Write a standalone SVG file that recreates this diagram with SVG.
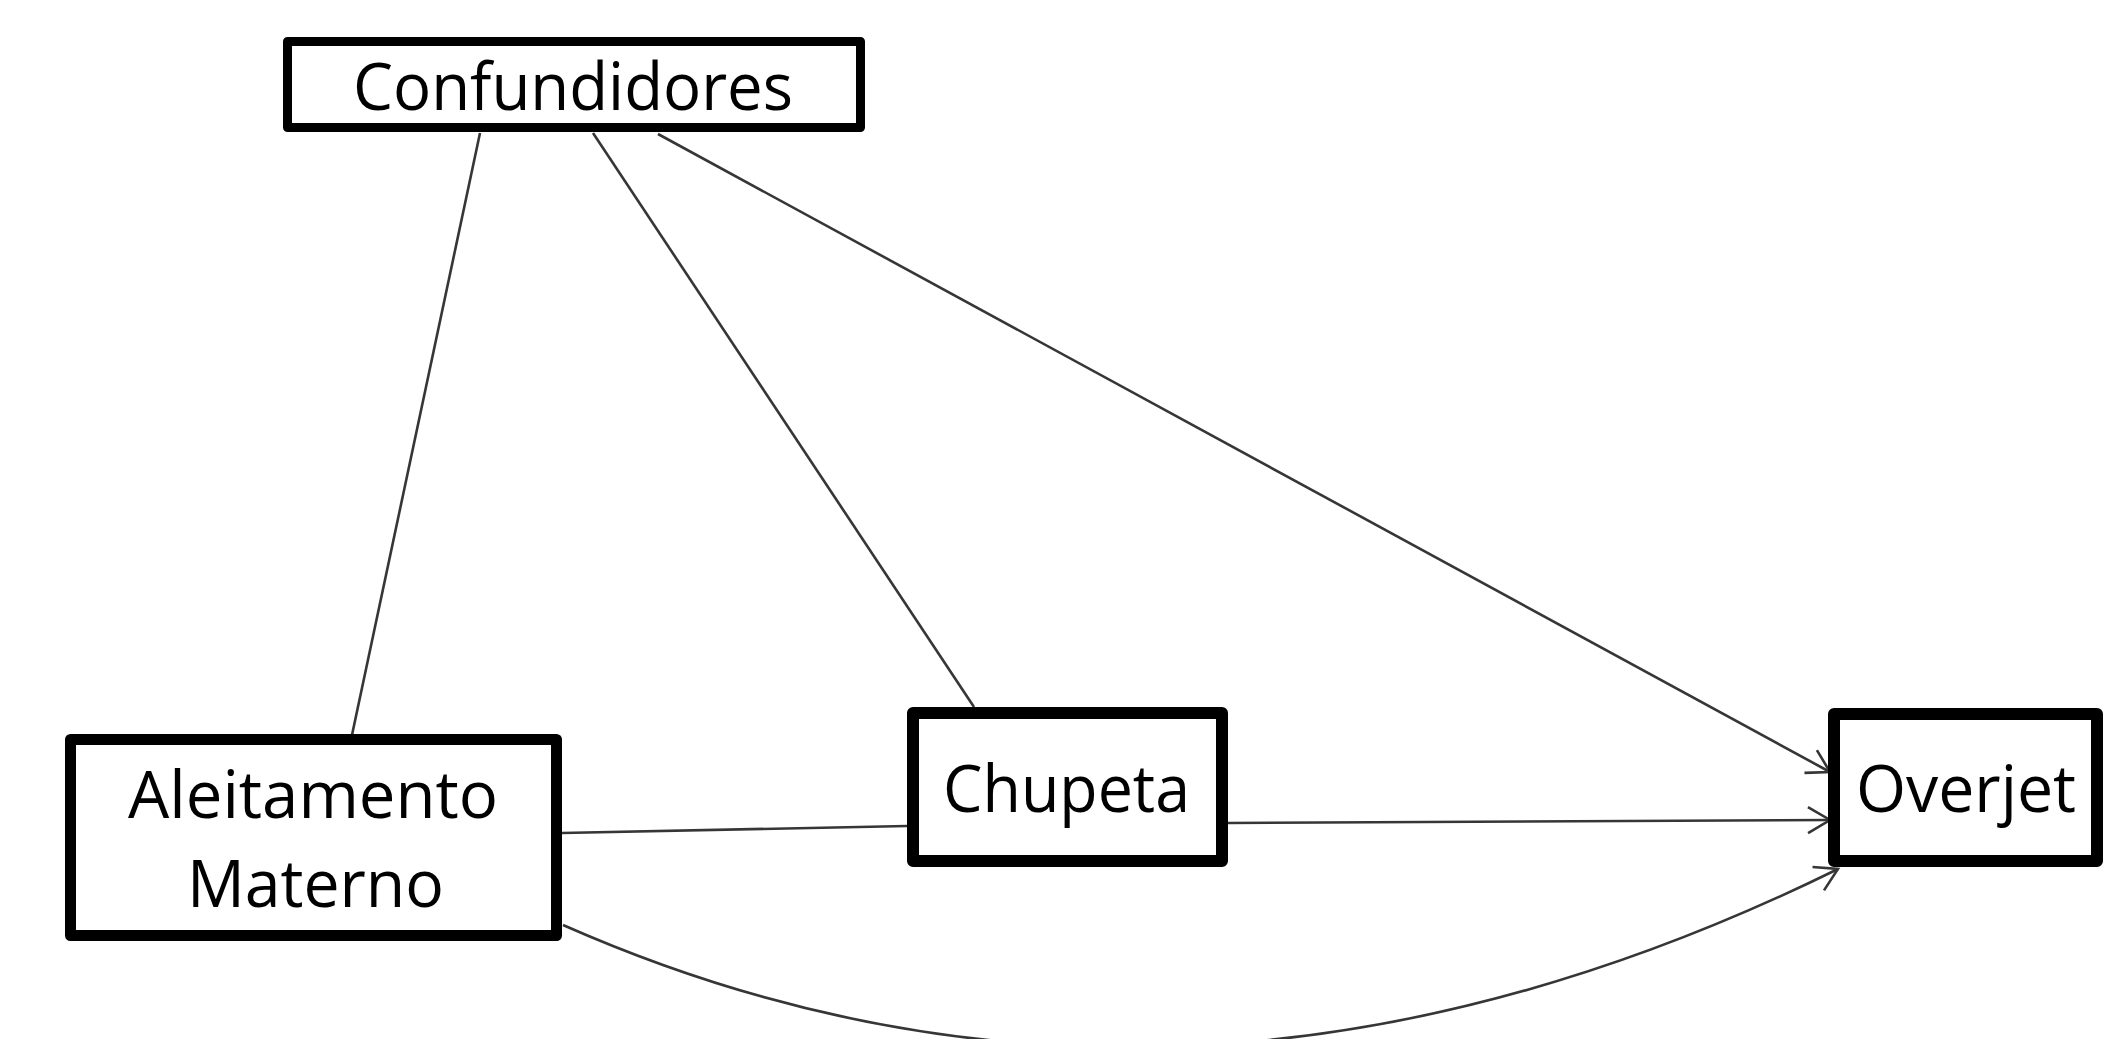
<svg xmlns="http://www.w3.org/2000/svg" width="2103" height="1039" viewBox="0 0 2103 1039">
  <style>
    .box { fill: #ffffff; stroke: #000000; stroke-linejoin: round; }
    .lbl { font-family: "Open Sans", "Noto Sans", "Liberation Sans", sans-serif; font-size: 66px; fill: #000000; }
    .edge { fill: none; stroke: #363636; stroke-width: 2.6; }
  </style>
  <defs>
    <marker id="arrow" markerUnits="userSpaceOnUse" markerWidth="40" markerHeight="40" refX="0" refY="0" viewBox="-30 -20 40 40" orient="auto">
      <path d="M -22 -13 L 0 0 L -22 13" fill="none" stroke="#363636" stroke-width="2.6"/>
    </marker>
  </defs>
  <rect x="0" y="0" width="2103" height="1039" fill="#ffffff"/>
  <g id="connectors">
    <line class="edge" x1="480" y1="133" x2="352" y2="735"/>
    <line class="edge" x1="593" y1="133" x2="974" y2="707"/>
    <line class="edge" x1="658" y1="134" x2="1830" y2="772" marker-end="url(#arrow)"/>
    <line class="edge" x1="562" y1="833" x2="907" y2="826"/>
    <line class="edge" x1="1228" y1="823" x2="1830" y2="820" marker-end="url(#arrow)"/>
    <path class="edge" d="M 563 925 Q 1175 1195 1838 869" marker-end="url(#arrow)"/>
  </g>
  <g id="confundidores">
    <rect class="box" x="287.5" y="41.5" width="573" height="86" stroke-width="9"/>
    <text class="lbl" x="353" y="110" textLength="440" lengthAdjust="spacingAndGlyphs">Confundidores</text>
  </g>
  <g id="aleitamento">
    <rect class="box" x="70.5" y="739.5" width="486" height="196" stroke-width="11"/>
    <text class="lbl" x="128" y="818" textLength="370" lengthAdjust="spacingAndGlyphs">Aleitamento</text>
    <text class="lbl" x="187" y="907" textLength="257" lengthAdjust="spacingAndGlyphs">Materno</text>
  </g>
  <g id="chupeta">
    <rect class="box" x="913" y="713" width="309" height="148" stroke-width="12"/>
    <text class="lbl" x="943" y="812" textLength="247" lengthAdjust="spacingAndGlyphs">Chupeta</text>
  </g>
  <g id="overjet">
    <rect class="box" x="1834" y="714" width="263" height="147" stroke-width="12"/>
    <text class="lbl" x="1856" y="812" textLength="220" lengthAdjust="spacingAndGlyphs">Overjet</text>
  </g>
</svg>
